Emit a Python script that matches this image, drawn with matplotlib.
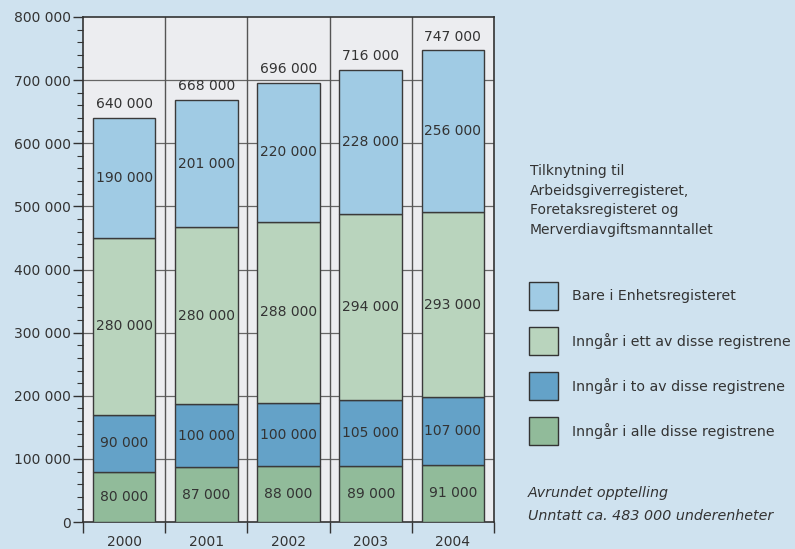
import numpy as np
import matplotlib
matplotlib.use("Agg")
import matplotlib.pyplot as plt
from matplotlib.patches import Rectangle
from matplotlib.ticker import FuncFormatter, MultipleLocator, FixedLocator

years = ["2000", "2001", "2002", "2003", "2004"]
# bottom -> top
alle = [80000, 87000, 88000, 89000, 91000]
to_av = [90000, 100000, 100000, 105000, 107000]
ett_av = [280000, 280000, 288000, 294000, 293000]
bare = [190000, 201000, 220000, 228000, 256000]
totals = [640000, 668000, 696000, 716000, 747000]

series = [alle, to_av, ett_av, bare]
colors = ["#91bb9a", "#64a2c8", "#b9d4bd", "#a0cbe4"]
legend_labels = ["Bare i Enhetsregisteret",
                 "Inngår i ett av disse registrene",
                 "Inngår i to av disse registrene",
                 "Inngår i alle disse registrene"]
legend_colors = ["#a0cbe4", "#b9d4bd", "#64a2c8", "#91bb9a"]

def fmt(v):
    return f"{int(v):,}".replace(",", " ")

bg = "#cfe2ef"
fig = plt.figure(figsize=(7.95, 5.49), dpi=100, facecolor=bg)
ax = fig.add_axes([83/795, 1-522/549, 411/795, 505/549])
ax.set_facecolor("#ecedf0")

x = np.arange(len(years))
bottom = np.zeros(len(years))
for vals, col in zip(series, colors):
    ax.bar(x, vals, width=0.76, bottom=bottom, color=col, edgecolor="#3a3a3a",
           linewidth=1.0, zorder=3)
    for xi, b, v in zip(x, bottom, vals):
        ax.text(xi, b + v/2, fmt(v), ha="center", va="center", fontsize=10,
                color="#333333", zorder=4)
    bottom += np.array(vals)

for xi, t in zip(x, totals):
    ax.annotate(fmt(t), (xi, t), xytext=(0, 5), textcoords="offset points",
                ha="center", va="bottom", fontsize=10, color="#333333")

ax.set_xlim(-0.5, len(years) - 0.5)
ax.set_ylim(0, 800000)

# grid
for yv in range(100000, 800000, 100000):
    ax.axhline(yv, color="#666666", linewidth=0.9, zorder=1)
for b in np.arange(0.5, len(years) - 0.5, 1):
    ax.axvline(b, color="#555555", linewidth=1.0, zorder=1)

ax.yaxis.set_major_locator(MultipleLocator(100000))
ax.yaxis.set_minor_locator(MultipleLocator(20000))
ax.yaxis.set_major_formatter(FuncFormatter(lambda v, p: fmt(v)))
ax.tick_params(axis="y", which="major", length=7, width=1, labelsize=10,
               labelcolor="#333333", color="#333333", pad=2)
ax.tick_params(axis="y", which="minor", length=4, width=0.8, color="#333333")

ax.xaxis.set_major_locator(FixedLocator(np.arange(-0.5, len(years), 1)))
ax.xaxis.set_major_formatter(FuncFormatter(lambda v, p: ""))
ax.xaxis.set_minor_locator(FixedLocator(x))
ax.set_xticklabels(years, minor=True)
ax.tick_params(axis="x", which="major", length=8, width=1, color="#333333")
ax.tick_params(axis="x", which="minor", length=0, labelsize=10,
               labelcolor="#333333", pad=9)

for s in ax.spines.values():
    s.set_color("#333333")
    s.set_linewidth(1.2)

# legend / notes area
W, H = 795, 549
def fx(px): return px / W
def fy(py): return 1 - py / H

fig.text(fx(530), fy(164), "Tilknytning til\nArbeidsgiverregisteret,\nForetaksregisteret og\nMerverdiavgiftsmanntallet",
         ha="left", va="top", fontsize=10, color="#333333", linespacing=1.52)

for i, (lab, col) in enumerate(zip(legend_labels, legend_colors)):
    top = 282 + i * 45
    fig.add_artist(Rectangle((fx(529), fy(top + 28)), 29/W, 28/H,
                             transform=fig.transFigure, facecolor=col,
                             edgecolor="#333333", linewidth=1.0))
    fig.text(fx(572), fy(top + 14), lab, ha="left", va="center",
             fontsize=10.2, color="#333333")

fig.text(fx(528), fy(493), "Avrundet opptelling", ha="left", va="center",
         fontsize=10.3, style="italic", color="#333333")
fig.text(fx(528), fy(516), "Unntatt ca. 483 000 underenheter", ha="left",
         va="center", fontsize=10.3, style="italic", color="#333333")

fig.savefig("out.png", dpi=100, facecolor=bg)
